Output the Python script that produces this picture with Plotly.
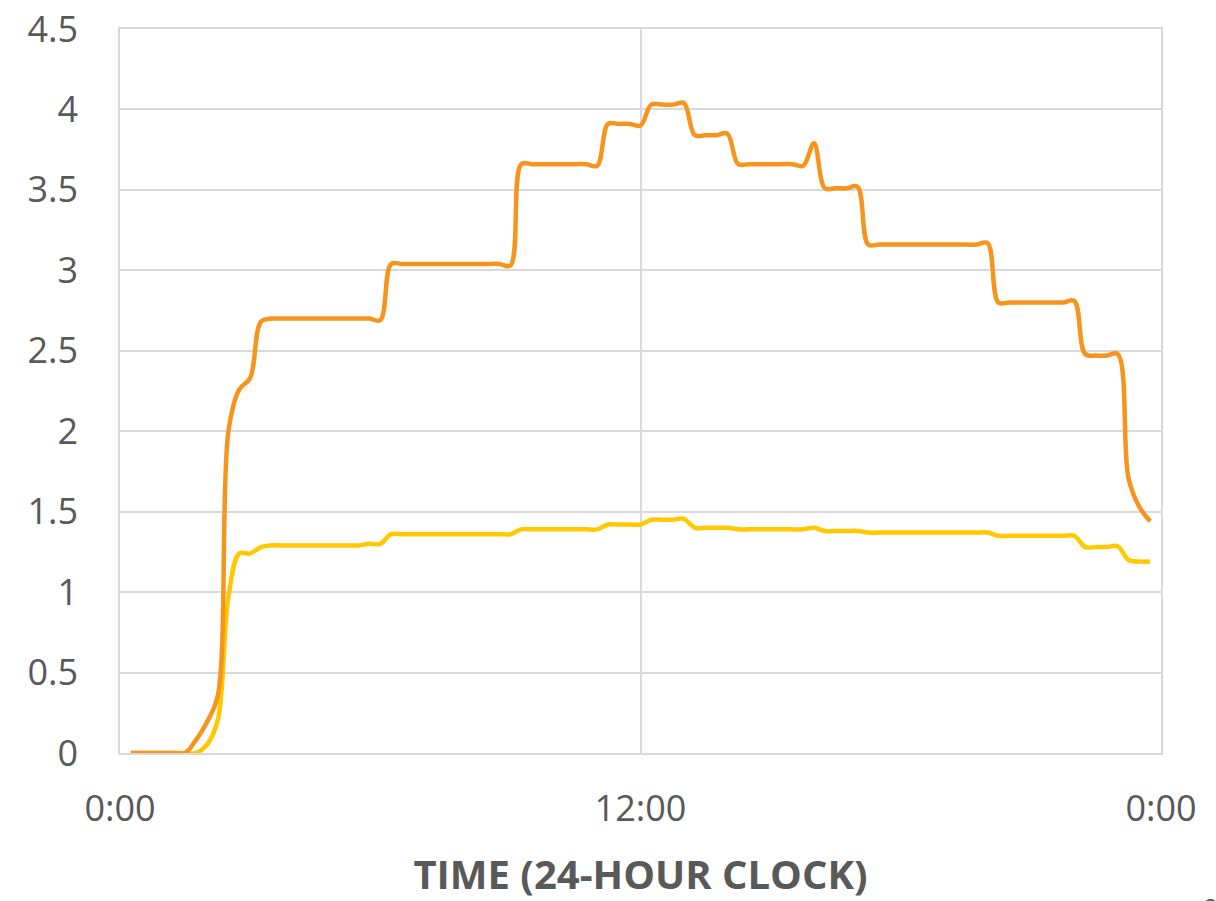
import plotly.graph_objects as go

# Quarter-hour sample times (hours after midnight), 0:15 .. 23:45
hours = [q / 4 for q in range(1, 96)]

# Upper series (orange)
orange_vals = [
    0, 0, 0, 0, 0, 0, 0.08, 0.19, 0.35, 2.0,
    2.26, 2.33, 2.68, 2.70, 2.70, 2.70, 2.70, 2.70, 2.70, 2.70,
    2.70, 2.70, 2.70, 2.69, 3.04, 3.04, 3.04, 3.04, 3.04, 3.04,
    3.04, 3.04, 3.04, 3.04, 3.04, 3.03, 3.66, 3.66, 3.66, 3.66,
    3.66, 3.66, 3.66, 3.65, 3.91, 3.91, 3.91, 3.90, 4.03, 4.03,
    4.03, 4.04, 3.84, 3.84, 3.84, 3.85, 3.66, 3.66, 3.66, 3.66,
    3.66, 3.66, 3.65, 3.79, 3.51, 3.51, 3.51, 3.52, 3.16, 3.16,
    3.16, 3.16, 3.16, 3.16, 3.16, 3.16, 3.16, 3.16, 3.16, 3.17,
    2.80, 2.80, 2.80, 2.80, 2.80, 2.80, 2.80, 2.81, 2.48, 2.47,
    2.47, 2.48, 1.71, 1.53, 1.44,
]

# Lower series (yellow)
yellow_vals = [
    0, 0, 0, 0, 0, 0, 0, 0.05, 0.20, 0.97,
    1.24, 1.24, 1.28, 1.29, 1.29, 1.29, 1.29, 1.29, 1.29, 1.29,
    1.29, 1.29, 1.30, 1.30, 1.36, 1.36, 1.36, 1.36, 1.36, 1.36,
    1.36, 1.36, 1.36, 1.36, 1.36, 1.36, 1.39, 1.39, 1.39, 1.39,
    1.39, 1.39, 1.39, 1.39, 1.42, 1.42, 1.42, 1.42, 1.45, 1.45,
    1.45, 1.455, 1.40, 1.40, 1.40, 1.40, 1.39, 1.39, 1.39, 1.39,
    1.39, 1.39, 1.39, 1.40, 1.38, 1.38, 1.38, 1.38, 1.37, 1.37,
    1.37, 1.37, 1.37, 1.37, 1.37, 1.37, 1.37, 1.37, 1.37, 1.37,
    1.35, 1.35, 1.35, 1.35, 1.35, 1.35, 1.35, 1.35, 1.28, 1.28,
    1.28, 1.285, 1.20, 1.19, 1.19,
]

x_tick_vals = [0, 12, 24]
x_tick_text = ["0:00", "12:00", "0:00"]
x_title = "TIME (24-HOUR CLOCK)"

GRID = "#d9d9d9"
TEXT = "#595959"

fig = go.Figure()
fig.add_trace(go.Scatter(
    x=hours, y=yellow_vals, mode="lines",
    line=dict(color="#FFC800", width=4.5, shape="spline", smoothing=1),
    showlegend=False, hoverinfo="skip",
))
fig.add_trace(go.Scatter(
    x=hours, y=orange_vals, mode="lines",
    line=dict(color="#F7941E", width=4.5, shape="spline", smoothing=1),
    showlegend=False, hoverinfo="skip",
))

fig.update_layout(
    width=1216, height=901,
    margin=dict(l=120, r=55, t=29, b=148, autoexpand=False),
    paper_bgcolor="white", plot_bgcolor="white",
    font=dict(family="Open Sans", color=TEXT),
    xaxis=dict(
        range=[0, 24], tickvals=x_tick_vals, ticktext=x_tick_text,
        showgrid=True, gridcolor=GRID, gridwidth=1.5,
        showline=True, linecolor=GRID, linewidth=1.5, mirror=True,
        zeroline=False, ticks="", ticklabelstandoff=23,
        tickfont=dict(size=36, color=TEXT),
        title=dict(text=x_title, font=dict(size=40, color=TEXT, weight="bold"),
                   standoff=34),
    ),
    yaxis=dict(
        range=[0, 4.5], dtick=0.5, tick0=0,
        showgrid=True, gridcolor=GRID, gridwidth=1.5,
        showline=True, linecolor=GRID, linewidth=1.5, mirror=True,
        zeroline=False, ticks="", ticklabelstandoff=33,
        tickfont=dict(size=36, color=TEXT),
    ),
)

# page number peeking in at the bottom-right corner
fig.add_annotation(
    text="2", xref="paper", yref="paper", x=1.048, y=-0.186,
    xanchor="center", yanchor="top", showarrow=False,
    font=dict(size=24, color=TEXT),
)

fig.write_html("out.html")
